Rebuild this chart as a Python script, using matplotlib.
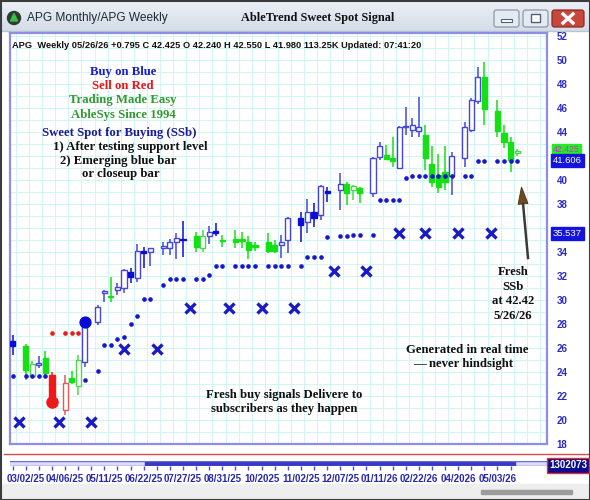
import matplotlib
matplotlib.use("Agg")
import matplotlib.pyplot as plt
import matplotlib.colors as mcolors
import matplotlib.transforms as mtransforms
from matplotlib.patches import Rectangle, Circle, FancyBboxPatch, Polygon
import numpy as np

plt.rcParams['font.family'] = ['Liberation Sans', 'DejaVu Sans']

# ---------------- data ----------------
bar_idx = [0, 2, 3, 4, 5, 6, 8, 9, 10, 11, 13, 14, 15, 16, 17, 18, 19, 20, 21, 23, 24, 25, 26,
           28, 29, 30, 31, 32, 34, 35, 36, 37, 39, 40, 41, 42, 44, 45, 46, 47, 48, 50, 51, 52, 53,
           55, 56, 57, 58, 59, 60, 61, 62, 63, 64, 65, 66, 67, 69, 70, 71, 72, 74, 75, 76, 77]
bar_open = [26.6, 26.2, 23.7, 24.6, 25.2, 23.75, 20.85, 23.5, 22.8, 24.8, 28.2, 30.6, 30.3, 30.8, 31.0,
            32.35, 31.8, 34.0, 34.0, 34.35, 34.3, 34.8, 35.1,
            35.3, 34.3, 35.35, 35.7, 34.95, 35.05, 35.0, 34.85, 34.5, 34.8, 34.6, 34.55, 35.0,
            36.8, 36.5, 37.3, 37.1, 39.0, 39.15, 39.7, 39.2, 39.35,
            38.95, 41.95, 42.1, 41.85, 41.0, 44.4, 44.2, 44.05, 43.75, 41.3, 40.4, 40.7, 40.3,
            41.8, 44.15, 46.55, 48.55, 45.75, 43.95, 43.2, 42.24]
bar_high = [27.1, 26.3, 24.9, 25.3, 25.75, 24.0, 23.75, 24.1, 25.4, 28.0, 29.6, 30.85, 31.9, 31.4, 32.6,
            32.65, 34.7, 34.45, 34.35, 34.85, 35.05, 35.55, 36.55,
            35.7, 35.8, 36.15, 36.45, 35.4, 35.8, 35.7, 35.3, 34.85, 35.55, 35.0, 35.4, 36.95,
            37.35, 38.45, 38.1, 39.6, 39.45, 40.55, 39.85, 39.6, 39.45,
            41.95, 43.2, 42.9, 43.6, 44.5, 46.1, 45.15, 46.9, 44.6, 42.8, 42.2, 42.8, 42.35,
            44.85, 46.8, 49.45, 49.85, 46.7, 44.6, 43.6, 42.55]
bar_low = [25.4, 23.3, 23.5, 24.3, 23.6, 21.0, 20.4, 23.0, 22.1, 24.4, 27.9, 29.85, 29.85, 30.4, 30.55,
           31.4, 31.5, 32.65, 32.8, 33.75, 33.75, 33.45, 33.6,
           34.0, 34.0, 34.7, 35.3, 34.45, 34.3, 34.3, 33.4, 34.05, 33.9, 33.9, 33.5, 33.95,
           34.85, 35.55, 36.1, 36.7, 38.2, 37.5, 37.9, 38.35, 38.05,
           38.6, 41.65, 41.7, 41.05, 40.9, 43.75, 43.6, 43.6, 40.85, 39.45, 38.9, 39.15, 38.75,
           41.05, 44.0, 46.3, 44.6, 43.6, 42.65, 40.7, 41.98]
bar_close = [26.2, 24.2, 24.7, 24.7, 23.9, 21.4, 23.1, 23.2, 25.0, 27.8, 29.45, 30.65, 30.25, 31.05, 32.5,
             31.9, 34.1, 33.95, 34.3, 34.4, 34.8, 35.15, 35.0,
             34.45, 35.3, 35.7, 35.6, 34.9, 34.85, 34.95, 34.15, 34.45, 34.05, 34.1, 34.8, 36.8,
             36.25, 37.35, 36.8, 39.5, 38.95, 39.65, 38.9, 39.5, 38.95,
             41.8, 42.8, 41.75, 41.6, 44.4, 44.45, 44.6, 44.45, 41.8, 39.85, 39.45, 39.85, 42.0,
             44.4, 46.65, 48.55, 45.9, 44.05, 43.2, 41.65, 42.425]
bar_color = ['b', 'g', 'g', 'b', 'g', 'r', 'r', 'g', 'g', 'b', 'b', 'b', 'g', 'b', 'b',
             'b', 'b', 'b', 'b', 'b', 'b', 'b', 'b',
             'g', 'g', 'b', 'b', 'g', 'g', 'g', 'g', 'g', 'g', 'g', 'b', 'b',
             'b', 'b', 'b', 'b', 'b', 'b', 'g', 'g', 'g',
             'b', 'b', 'g', 'g', 'b', 'b', 'b', 'b', 'g', 'g', 'g', 'g', 'b',
             'b', 'b', 'b', 'g', 'g', 'g', 'g', 'g']

stop_idx = [0, 2, 3, 4, 5, 11, 13, 14, 15, 16, 17, 18, 19, 20, 21, 23, 24, 25, 26, 28, 29, 30, 31, 32,
            34, 35, 36, 37, 39, 40, 41, 42, 44, 45, 46, 47, 48, 50, 51, 52, 53, 55, 56, 57, 58, 59,
            60, 61, 62, 63, 64, 65, 66, 67, 69, 70, 71, 72, 74, 75, 76, 77]
stop_val = [23.67, 23.67, 23.67, 23.67, 23.67, 23.3, 24.1, 26.25, 26.25, 26.75, 26.9, 28.0, 28.7,
            30.05, 30.05, 31.25, 31.75, 31.75, 31.75, 31.75, 31.75, 32.1, 32.83, 32.83,
            32.83, 32.83, 32.83, 32.83, 32.83, 32.83, 32.83, 32.83, 32.83, 33.55, 33.55, 33.55,
            35.25, 35.3, 35.3, 35.4, 35.4, 35.4, 38.3, 38.3, 38.3, 38.3,
            40.15, 40.33, 40.33, 40.33, 40.33, 40.33, 40.33, 40.33, 40.33, 40.33, 41.6, 41.6,
            41.6, 41.6, 41.6, 41.6]
red_stop_idx = [6, 8, 9, 10]
red_stop_val = [27.28, 27.28, 27.28, 27.28]

x_idx = [1, 7, 12, 17, 22, 27, 33, 38, 43, 49, 54, 59, 63, 68, 73]
x_val = [19.85, 19.85, 19.85, 25.9, 25.9, 29.3, 29.3, 29.3, 29.3, 32.45, 32.45,
         35.55, 35.55, 35.55, 35.55]

buy_dot_idx, buy_dot_val = [11], [28.2]
sell_dot_idx, sell_dot_val = [6], [21.5]

date_idx = [2, 8, 14, 20, 26, 32, 38, 44, 50, 56, 62, 68, 74]
date_labels = ['03/02/25', '04/06/25', '05/11/25', '06/22/25', '07/27/25', '08/31/25', '10/2025',
               '11/02/25', '12/07/25', '01/11/26', '02/22/26', '04/2026', '05/03/26']
ytick_vals = list(range(18, 53, 2))
hidden_ticks = [36, 42]   # covered by the price tags

last_close = 42.425
stop_level = 41.606
x_level = 35.537
volume_label = '1302073'

# ---------------- colours ----------------
COL = {'b': ('#0c0cd8', '#4646d8'), 'g': ('#14e014', '#4ada4a'), 'r': ('#f01818', '#e45858')}
BLUE_TXT = '#2a2ac4'

W, H = 590, 500
fig = plt.figure(figsize=(W / 100, H / 100), dpi=100)
fig.patch.set_facecolor('white')


def fr(x0, y0, x1, y1):
    return [x0 / W, 1 - y1 / H, (x1 - x0) / W, (y1 - y0) / H]


# ---------------- window chrome ----------------
chrome = fig.add_axes([0, 0, 1, 1], zorder=0)
top = np.array(mcolors.to_rgb('#edf1f6'))
bot = np.array(mcolors.to_rgb('#d4dce7'))
g = np.linspace(0, 1, 32)[:, None, None]
chrome.imshow(top + (bot - top) * g, extent=[0, W, 31, 0], aspect='auto', zorder=0)
chrome.add_patch(Rectangle((0, 484), W, 16, color='#eeeeee', zorder=1))
chrome.add_patch(FancyBboxPatch((482, 491), 90, 3, boxstyle='round,pad=0.5', color='#9c9c9c', zorder=2))
chrome.plot([0, W], [31, 31], color='#b9c3d0', lw=1, zorder=2)
chrome.set_xlim(0, W)
chrome.set_ylim(H, 0)
chrome.axis('off')

# title bar icon / text / buttons
chrome.add_patch(Circle((14, 18), 6.5, color='#2f3a33', zorder=3))
chrome.add_patch(Polygon([[10.5, 21], [14, 13.5], [17.5, 21]], closed=True, color='#38c040', zorder=4))
chrome.text(27, 18.5, 'APG Monthly/APG Weekly', fontsize=8.6, color='#1e2a38', va='center', ha='left')
chrome.text(318, 18, 'AbleTrend Sweet Spot Signal', fontsize=8.8, fontweight='bold',
            family='Liberation Serif', color='#111111', va='center', ha='center')
for (bx0, bx1) in [(494, 519), (523, 548)]:
    chrome.add_patch(FancyBboxPatch((bx0, 10), bx1 - bx0, 17, boxstyle='round,pad=0,rounding_size=2.5',
                                    fc='#e4eaf1', ec='#8d99a8', lw=0.9, zorder=3))
chrome.add_patch(Rectangle((501, 19), 11, 2.5, fc='white', ec='#55606e', lw=0.8, zorder=4))
chrome.add_patch(Rectangle((531, 14), 9, 8, fc='white', ec='#55606e', lw=1.0, zorder=4))
chrome.add_patch(FancyBboxPatch((552, 10), 32, 17, boxstyle='round,pad=0,rounding_size=2.5',
                                fc='#c9463c', ec='#8a2c24', lw=0.9, zorder=3))
chrome.plot([563, 573], [14, 23], color='white', lw=2.4, zorder=4)
chrome.plot([563, 573], [23, 14], color='white', lw=2.4, zorder=4)
chrome.plot([4, W], [454, 454], color='#e04848', lw=1, zorder=2)

# ---------------- main chart ----------------
ax = fig.add_axes(fr(10, 33, 547, 444), zorder=2)
ax.set_facecolor('white')
ax.set_xlim(-0.41, 81.57)
ax.set_ylim(18.0, 52.25)

ax.set_yticks(ytick_vals, labels=['' if v in hidden_ticks else str(v) for v in ytick_vals])
ax.set_yticks(np.arange(19, 52, 2), minor=True)
ax.set_xticks(np.arange(0.5, 82, 2))
ax.set_xticklabels([])
ax.grid(which='both', color='#d0f4f6', lw=0.7, zorder=0)
ax.set_axisbelow(True)
ax.yaxis.tick_right()
ax.tick_params(axis='both', which='both', length=0)
ax.tick_params(axis='y', pad=7, labelsize=7, labelcolor=BLUE_TXT)
for lbl in ax.get_yticklabels():
    lbl.set_fontweight('bold')
for sp in ax.spines.values():
    sp.set_color('#8e8ee6')
    sp.set_linewidth(1.6)

# candles
bi = np.array(bar_idx)
o = np.array(bar_open)
c = np.array(bar_close)
hi = np.array(bar_high)
lo = np.array(bar_low)
up = c >= o
wick_cols = [COL[k][1] if u else COL[k][0] for k, u in zip(bar_color, up)]
ax.vlines(bi, lo, hi, colors=wick_cols, lw=1.1, zorder=3)
bottoms = np.minimum(o, c)
heights = np.maximum(np.abs(c - o), 0.12)
faces = ['white' if u else COL[k][0] for k, u in zip(bar_color, up)]
edges = [COL[k][1] if u else COL[k][0] for k, u in zip(bar_color, up)]
ax.bar(bi, heights, bottom=bottoms, width=0.78, color=faces, edgecolor=edges, lw=1.0, zorder=4)

# stops and signals
ax.plot(stop_idx, stop_val, 'o', ls='none', ms=2.3, color='#1616cc', zorder=5)
ax.plot(red_stop_idx, red_stop_val, 'o', ls='none', ms=2.3, color='#e81c1c', zorder=5)
ax.plot(x_idx, x_val, 'x', ls='none', ms=7.2, mew=2.4, color='#1a1ac6', zorder=5)
ax.plot(buy_dot_idx, buy_dot_val, 'o', ls='none', ms=7.8, color='#0a0ad6', zorder=6)
ax.plot(sell_dot_idx, sell_dot_val, 'o', ls='none', ms=8.0, color='#ee1a1a', zorder=6)

# price tags on right
trans = mtransforms.blended_transform_factory(ax.transAxes, ax.transData)
ax.text(1.011, last_close + 0.12, f'{last_close:.3f}', transform=trans, fontsize=6.3, color='#c03cc0',
        va='center', ha='left', zorder=7,
        bbox=dict(boxstyle='square,pad=0.1', fc='#22ee22', ec='#22ee22'))
for lvl in (stop_level, x_level):
    ax.text(1.011, lvl, f'{lvl:.3f}', transform=trans, fontsize=6.8, color='white',
            va='center', ha='left', zorder=8,
            bbox=dict(boxstyle='square,pad=0.2', fc='#1414dc', ec='#1414dc'))

# ---------------- navigator / date axis ----------------
nav = fig.add_axes(fr(10, 461, 547, 466), zorder=2)
nav.set_xlim(ax.get_xlim())
nav.set_ylim(0, 1)
nav.set_facecolor('#dcdcf6')
for sp in nav.spines.values():
    sp.set_visible(False)
nav.axhline(1, color='#6a6ad6', lw=1)
nav.axhline(0, color='#6a6ad6', lw=1)
nav.axvspan(20.2, 76.7, color='#3838c4')
nav.set_yticks([])
nav.set_xticks(date_idx, labels=date_labels)
nav.set_xticks(np.arange(0, 77, 2), minor=True)
nav.tick_params(axis='x', which='both', direction='out', length=3, width=1, color='#5050c8')
nav.tick_params(axis='x', which='major', pad=2.5, labelsize=7.0, labelcolor='#2626b0')
for lbl in nav.get_xticklabels():
    lbl.set_fontweight('bold')

# ---------------- overlay text ----------------
ov = fig.add_axes([0, 0, 1, 1], zorder=10)
ov.set_xlim(0, W)
ov.set_ylim(H, 0)
ov.axis('off')
ov.patch.set_visible(False)

ov.text(12, 45, 'APG  Weekly 05/26/26 +0.795 C 42.425 O 42.240 H 42.550 L 41.980 113.25K Updated: 07:41:20',
        fontsize=6.7, fontweight='bold', color='#111111', va='center', ha='left')
ov.text(568, 465.5, volume_label, fontsize=7, fontweight='bold', color='white', va='center', ha='center',
        bbox=dict(boxstyle='square,pad=0.25', fc='#0c0c92', ec='#e03030', lw=1))

serif = dict(family='Liberation Serif', fontweight='bold', fontsize=9.2)
ov.text(123, 72, 'Buy on Blue', color='#1c1cc8', ha='center', va='center', **serif)
ov.text(123, 86, 'Sell on Red', color='#ee1414', ha='center', va='center', **serif)
ov.text(123, 100, 'Trading Made Easy', color='#2f9a2f', ha='center', va='center', **serif)
ov.text(123, 115, 'AbleSys Since 1994', color='#2f9a2f', ha='center', va='center', **serif)
ov.text(42, 133, 'Sweet Spot for Buying (SSb)', color='#1a1a9a', ha='left', va='center', **serif)
ov.text(53, 147, '1) After testing support level', color='#111111', ha='left', va='center', **serif)
ov.text(60, 161, '2) Emerging blue bar', color='#111111', ha='left', va='center', **serif)
ov.text(82, 174, 'or closeup bar', color='#111111', ha='left', va='center', **serif)

ov.text(284, 395, 'Fresh buy signals Delivere to', color='#111111', ha='center', va='center', **serif)
ov.text(284, 409, 'subscribers as they happen', color='#111111', ha='center', va='center', **serif)
ov.text(467, 350, 'Generated in real time', color='#111111', ha='center', va='center', **serif)
ov.text(463, 364, '\u2014 never hindsight', color='#111111', ha='center', va='center', **serif)
for yy, s in zip([272, 287, 301, 316], ['Fresh', 'SSb', 'at 42.42', '5/26/26']):
    ov.text(513, yy, s, color='#111111', ha='center', va='center', **serif)

# arrow
tip = np.array([521.5, 187.0])
tail = np.array([528.0, 258.0])
d = (tip - tail) / np.linalg.norm(tip - tail)
n = np.array([-d[1], d[0]])
base = tip - d * 17
ov.plot([tail[0], base[0]], [tail[1], base[1]], color='#3a3a3a', lw=1.8)
ov.add_patch(Polygon([tip, base + n * 5, base - n * 5], closed=True, fc='#6e4a22', ec='#4a3018', lw=0.6))

# outer window border
ov.add_patch(Rectangle((0.5, 0.5), W - 1, H - 1, fill=False, ec='#3c3c3c', lw=1.5))

fig.savefig('out.png', dpi=100)
